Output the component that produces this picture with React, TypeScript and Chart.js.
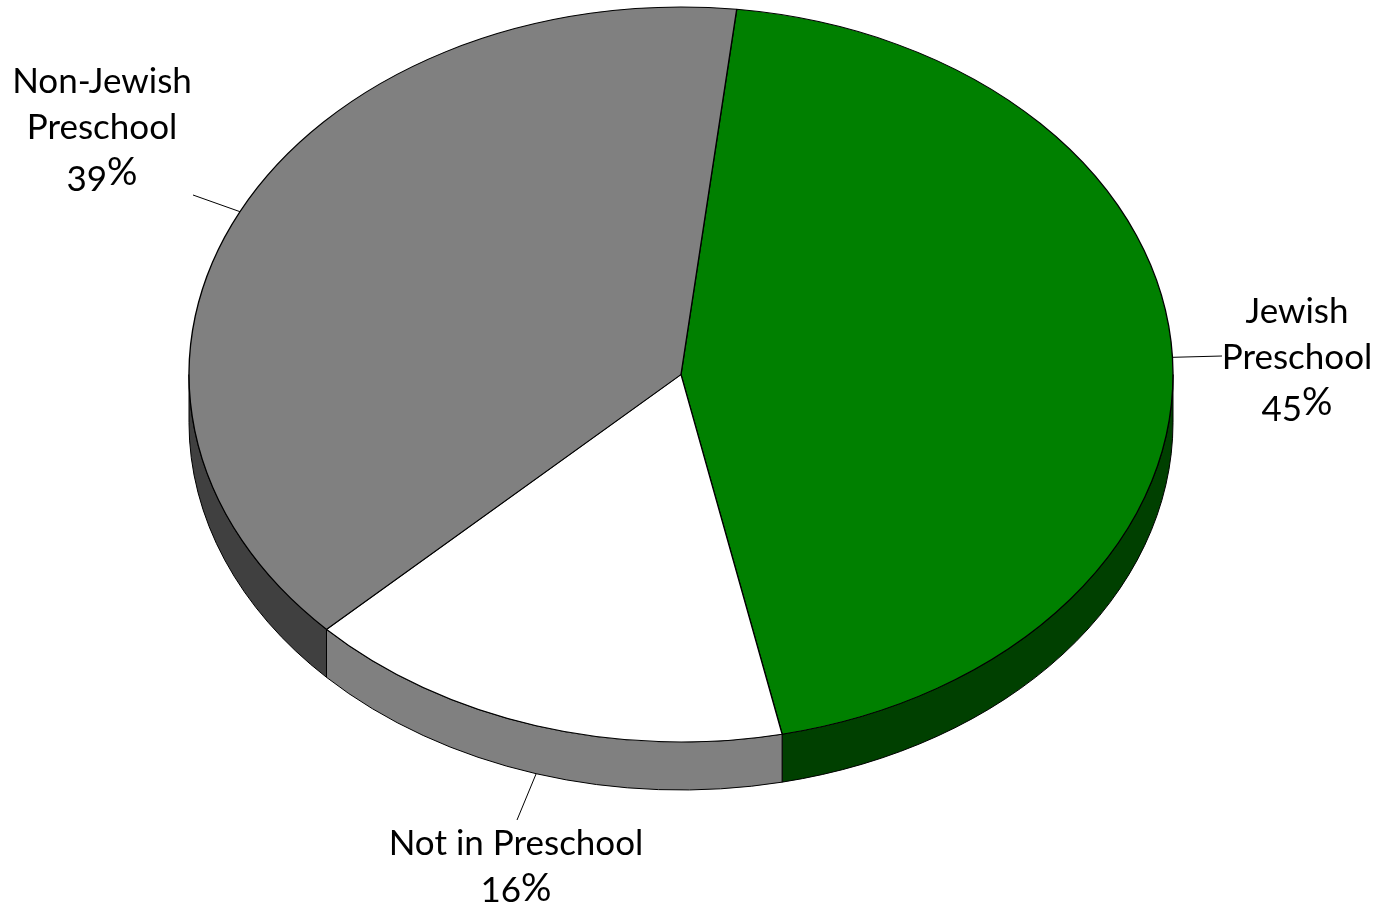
import React, { useEffect, useRef } from "react";
import { Chart, registerables } from "chart.js";

Chart.register(...registerables);

const categories = ["Jewish Preschool", "Not in Preschool", "Non-Jewish Preschool"];
const shares = [44.9, 16.1, 39];
const faceColors = ["#008000", "#FFFFFF", "#808080"];
const sideColors = ["#004000", "#808080", "#404040"];
const labelLines = [
  ["Jewish", "Preschool", "45%"],
  ["Not in Preschool", "16%"],
  ["Non-Jewish", "Preschool", "39%"],
];

const WIDTH = 1383;
const HEIGHT = 906;
const SQUASH_X = 492 / 367.5;
const DEPTH = 48;
const FONT = '35px Lato';
const PERCENT_FONT = '38px Lato';
const LINE_GAP = 46;
const LOWEST_TEXT_Y = 891;
const labelCenters = [
  { x: 1297, y: 312 },
  { x: 516, y: 844 },
  { x: 102, y: 82 },
];
const leaderEnds = [
  { x: 1222, y: 356 },
  { x: 517, y: 820 },
  { x: 193, y: 195 },
];

const pie3d = {
  id: "pie3d",
  beforeDatasetDraw(chart: any) {
    const ctx = chart.ctx;
    const arcs = chart.getDatasetMeta(0).data;
    ctx.save();
    arcs.forEach((arc: any, i: number) => {
      const rx = arc.outerRadius * SQUASH_X;
      const ry = arc.outerRadius;
      [0, Math.PI * 2].forEach((shift) => {
        const a = Math.max(arc.startAngle, shift);
        const b = Math.min(arc.endAngle, shift + Math.PI);
        if (b <= a) return;
        ctx.beginPath();
        ctx.ellipse(arc.x, arc.y, rx, ry, 0, a, b);
        ctx.ellipse(arc.x, arc.y + DEPTH, rx, ry, 0, b, a, true);
        ctx.closePath();
        ctx.fillStyle = sideColors[i];
        ctx.fill();
        ctx.lineWidth = 1;
        ctx.strokeStyle = "#000";
        ctx.stroke();
      });
    });
    ctx.restore();
    ctx.save();
    const c = arcs[0];
    ctx.translate(c.x, c.y);
    ctx.scale(SQUASH_X, 1);
    ctx.translate(-c.x, -c.y);
  },
  afterDatasetDraw(chart: any) {
    chart.ctx.restore();
  },
  afterDraw(chart: any) {
    const ctx = chart.ctx;
    const arcs = chart.getDatasetMeta(0).data;
    ctx.save();
    arcs.forEach((arc: any, i: number) => {
      const mid = (arc.startAngle + arc.endAngle) / 2;
      const sx = arc.x + Math.cos(mid) * arc.outerRadius * SQUASH_X;
      let sy = arc.y + Math.sin(mid) * arc.outerRadius;
      if (Math.sin(mid) > 0 && Math.abs(Math.cos(mid)) < 0.9) sy += DEPTH;
      ctx.beginPath();
      ctx.moveTo(sx, sy);
      ctx.lineTo(leaderEnds[i].x, leaderEnds[i].y);
      ctx.lineWidth = 1;
      ctx.strokeStyle = "#000";
      ctx.stroke();
    });
    ctx.fillStyle = "#000";
    ctx.textBaseline = "middle";
    labelLines.forEach((lines, i) => {
      lines.forEach((line, j) => {
        const cx = labelCenters[i].x;
        const y = labelCenters[i].y + j * LINE_GAP;
        ctx.font = FONT;
        if (line.endsWith("%")) {
          // the reference face sets its figures low and its percent sign high
          const digits = line.slice(0, -1);
          const dw = ctx.measureText(digits).width;
          ctx.font = PERCENT_FONT;
          const pw = ctx.measureText("%").width;
          const left = cx - (dw + pw) / 2;
          ctx.textAlign = "left";
          ctx.fillText("%", left + dw, y - 1);
          ctx.font = FONT;
          ctx.fillText(digits, left, Math.min(y + 6, LOWEST_TEXT_Y));
        } else {
          ctx.textAlign = "center";
          ctx.fillText(line, cx, y);
        }
      });
    });
    ctx.restore();
  },
};

export default function App() {
  const ref = useRef<HTMLCanvasElement>(null);
  useEffect(() => {
    const chart = new Chart(ref.current!, {
      type: "pie",
      data: {
        labels: categories,
        datasets: [
          {
            data: shares,
            backgroundColor: faceColors,
            borderColor: "#000000",
            borderWidth: 1,
            clip: false,
          } as any,
        ],
      },
      options: {
        animation: false,
        responsive: false,
        rotation: 6.5,
        layout: { padding: { top: 6.5, bottom: 163.5, left: 281, right: 302 } },
        plugins: { legend: { display: false }, tooltip: { enabled: false } },
      },
      plugins: [pie3d],
    });
    return () => chart.destroy();
  }, []);
  return (
    <div style={{ position: "absolute", left: 0, top: 0, width: WIDTH, height: HEIGHT, background: "#fff" }}>
      <canvas ref={ref} width={WIDTH} height={HEIGHT} style={{ display: "block" }} />
    </div>
  );
}
